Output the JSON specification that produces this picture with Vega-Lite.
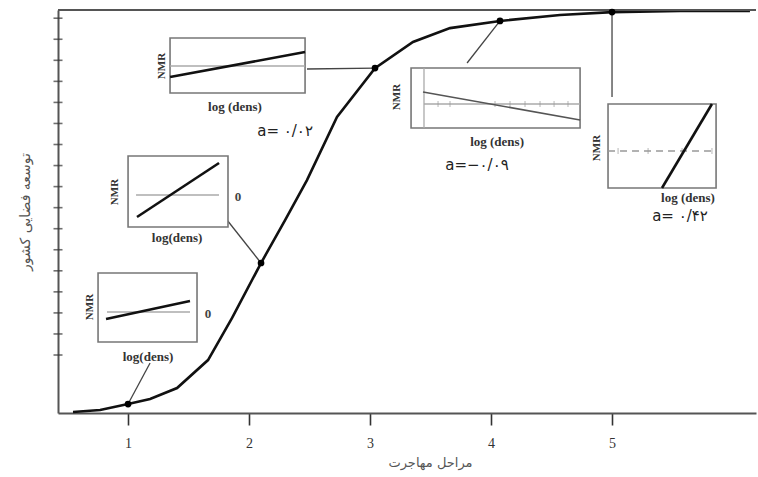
{
  "$schema": "https://vega.github.io/schema/vega-lite/v6.json",
  "width": 698,
  "height": 403,
  "padding": {"left": 58, "top": 10, "right": 2, "bottom": 64},
  "autosize": {"type": "none"},
  "background": "white",
  "config": {"view": {"stroke": null}},
  "datasets": {
    "curve": [
      {"x": 0.545, "y": -2.71}, {"x": 0.769, "y": -2.61}, {"x": 1.0, "y": -2.33},
      {"x": 1.182, "y": -2.09}, {"x": 1.405, "y": -1.57}, {"x": 1.661, "y": -0.24},
      {"x": 1.86, "y": 1.76}, {"x": 2.099, "y": 4.37}, {"x": 2.298, "y": 6.41},
      {"x": 2.479, "y": 8.31}, {"x": 2.727, "y": 11.31}, {"x": 3.041, "y": 13.63},
      {"x": 3.355, "y": 14.87}, {"x": 3.661, "y": 15.53}, {"x": 4.074, "y": 15.87},
      {"x": 4.57, "y": 16.15}, {"x": 5.0, "y": 16.29}, {"x": 5.562, "y": 16.34},
      {"x": 6.14, "y": 16.34}
    ],
    "dots": [
      {"x": 1.0, "y": -2.33}, {"x": 2.099, "y": 4.37}, {"x": 3.041, "y": 13.63},
      {"x": 4.074, "y": 15.87}, {"x": 5.0, "y": 16.29}
    ],
    "boxes": [
      {"x1": 0.752, "x2": 1.57, "y1": 0.618, "y2": 3.896},
      {"x1": 1.0, "x2": 1.826, "y1": 6.081, "y2": 9.454},
      {"x1": 1.347, "x2": 2.463, "y1": 12.447, "y2": 15.059},
      {"x1": 3.339, "x2": 4.736, "y1": 10.784, "y2": 13.634},
      {"x1": 4.967, "x2": 5.86, "y1": 7.933, "y2": 11.924}
    ],
    "zeros": [
      {"x1": 0.826, "x2": 1.512, "y1": 2.043, "y2": 2.043},
      {"x1": 1.066, "x2": 1.752, "y1": 7.601, "y2": 7.601},
      {"x1": 1.347, "x2": 2.463, "y1": 13.729, "y2": 13.729},
      {"x1": 3.446, "x2": 4.736, "y1": 11.924, "y2": 11.924},
      {"x1": 3.446, "x2": 3.446, "y1": 10.784, "y2": 13.634}
    ],
    "dashzero": [
      {"x1": 4.967, "x2": 5.86, "y1": 9.691, "y2": 9.691}
    ],
    "innerticks": [
      {"x": 3.562, "y": 11.924}, {"x": 3.661, "y": 11.924}, {"x": 4.033, "y": 11.924},
      {"x": 4.157, "y": 11.924}, {"x": 4.281, "y": 11.924}, {"x": 4.405, "y": 11.924},
      {"x": 4.521, "y": 11.924}, {"x": 4.636, "y": 11.924},
      {"x": 5.05, "y": 9.691}, {"x": 5.298, "y": 9.691}, {"x": 5.579, "y": 9.691}, {"x": 5.826, "y": 9.691}
    ],
    "slopes": [
      {"x1": 0.818, "y1": 1.71, "x2": 1.512, "y2": 2.565},
      {"x1": 1.074, "y1": 6.556, "x2": 1.752, "y2": 9.121},
      {"x1": 1.347, "y1": 13.207, "x2": 2.463, "y2": 14.394},
      {"x1": 5.413, "y1": 7.933, "x2": 5.826, "y2": 11.924}
    ],
    "slopeNeg": [
      {"x1": 3.438, "y1": 12.494, "x2": 4.736, "y2": 11.164}
    ],
    "connectors": [
      {"x1": 1.182, "y1": -0.38, "x2": 1.0, "y2": -2.33},
      {"x1": 1.818, "y1": 6.413, "x2": 2.099, "y2": 4.37},
      {"x1": 2.479, "y1": 13.587, "x2": 3.041, "y2": 13.63},
      {"x1": 3.802, "y1": 13.872, "x2": 4.074, "y2": 15.87},
      {"x1": 5.0, "y1": 12.257, "x2": 5.0, "y2": 16.29}
    ],
    "nmr": [
      {"x": 0.686, "y": 2.28}, {"x": 0.893, "y": 7.743}, {"x": 1.281, "y": 13.729},
      {"x": 3.223, "y": 12.257}, {"x": 4.876, "y": 9.834}
    ],
    "logs": [
      {"x": 1.165, "y": -0.095, "t": "log(dens)"},
      {"x": 1.405, "y": 5.558, "t": "log(dens)"},
      {"x": 1.884, "y": 11.781, "t": "log (dens)"},
      {"x": 4.05, "y": 10.119, "t": "log (dens)"},
      {"x": 5.628, "y": 7.458, "t": "log (dens)"}
    ],
    "zlabels": [
      {"x": 1.661, "y": 1.948, "t": "0"},
      {"x": 1.909, "y": 7.506, "t": "0"}
    ],
    "avals": [
      {"x": 2.298, "y": 10.641, "t": "a= ۰/۰۲"},
      {"x": 3.884, "y": 9.026, "t": "a=−۰/۰۹"},
      {"x": 5.562, "y": 6.603, "t": "a= ۰/۴۲"}
    ],
    "yticks": [
      {"yt": 0}, {"yt": 1}, {"yt": 2}, {"yt": 3}, {"yt": 4}, {"yt": 5}, {"yt": 6},
      {"yt": 7}, {"yt": 8}, {"yt": 9}, {"yt": 10}, {"yt": 11}, {"yt": 12},
      {"yt": 13}, {"yt": 14}, {"yt": 15}, {"yt": 16}
    ]
  },
  "layer": [
    {
      "data": {"name": "curve"},
      "mark": {"type": "line", "color": "#111", "strokeWidth": 2.6},
      "encoding": {
        "x": {"field": "x", "type": "quantitative",
              "scale": {"domain": [0.421, 6.19], "nice": false, "zero": false},
              "axis": {"values": [1, 2, 3, 4, 5], "format": "d", "grid": false, "domainColor": "#555", "domainWidth": 2,
                       "tickColor": "#333", "tickSize": 12, "tickWidth": 1.6,
                       "labelFont": "Liberation Serif", "labelFontSize": 14, "labelColor": "#333", "labelPadding": 11,
                       "title": "مراحل مهاجرت", "titleFont": "DejaVu Sans", "titleFontSize": 13,
                       "titleFontWeight": "normal", "titleColor": "#555", "titlePadding": 6, "titleX": 372}},
        "y": {"field": "y", "type": "quantitative",
              "scale": {"domain": [-2.755, 16.39], "nice": false, "zero": false},
              "axis": {"grid": false, "ticks": false, "labels": false, "domainColor": "#555", "domainWidth": 2,
                       "title": "توسعه فضایی کشور", "titleFont": "DejaVu Sans", "titleFontSize": 14,
                       "titleFontWeight": "normal", "titleColor": "#555", "titlePadding": 26}}
      }
    },
    {
      "data": {"name": "yticks"},
      "mark": {"type": "tick", "orient": "horizontal", "size": 9, "thickness": 1.6, "color": "#333"},
      "encoding": {
        "x": {"datum": 0.421, "type": "quantitative"},
        "y": {"field": "yt", "type": "quantitative"}
      }
    },
    {
      "data": {"values": [{"top": 16.39}]},
      "mark": {"type": "rule", "color": "#555", "strokeWidth": 2},
      "encoding": {"y": {"field": "top", "type": "quantitative"}}
    },
    {
      "data": {"name": "connectors"},
      "mark": {"type": "rule", "color": "#444", "strokeWidth": 1.3},
      "encoding": {
        "x": {"field": "x1", "type": "quantitative"}, "x2": {"field": "x2"},
        "y": {"field": "y1", "type": "quantitative"}, "y2": {"field": "y2"}
      }
    },
    {
      "data": {"name": "boxes"},
      "mark": {"type": "rect", "fill": "white", "stroke": "#777", "strokeWidth": 1.6},
      "encoding": {
        "x": {"field": "x1", "type": "quantitative"}, "x2": {"field": "x2"},
        "y": {"field": "y1", "type": "quantitative"}, "y2": {"field": "y2"}
      }
    },
    {
      "data": {"name": "zeros"},
      "mark": {"type": "rule", "color": "#aaa", "strokeWidth": 1.3},
      "encoding": {
        "x": {"field": "x1", "type": "quantitative"}, "x2": {"field": "x2"},
        "y": {"field": "y1", "type": "quantitative"}, "y2": {"field": "y2"}
      }
    },
    {
      "data": {"name": "dashzero"},
      "mark": {"type": "rule", "color": "#999", "strokeWidth": 1.3, "strokeDash": [7, 5]},
      "encoding": {
        "x": {"field": "x1", "type": "quantitative"}, "x2": {"field": "x2"},
        "y": {"field": "y1", "type": "quantitative"}, "y2": {"field": "y2"}
      }
    },
    {
      "data": {"name": "innerticks"},
      "mark": {"type": "tick", "orient": "vertical", "size": 6, "thickness": 1, "color": "#999"},
      "encoding": {
        "x": {"field": "x", "type": "quantitative"},
        "y": {"field": "y", "type": "quantitative"}
      }
    },
    {
      "data": {"name": "slopes"},
      "mark": {"type": "rule", "color": "#111", "strokeWidth": 2.6},
      "encoding": {
        "x": {"field": "x1", "type": "quantitative"}, "x2": {"field": "x2"},
        "y": {"field": "y1", "type": "quantitative"}, "y2": {"field": "y2"}
      }
    },
    {
      "data": {"name": "slopeNeg"},
      "mark": {"type": "rule", "color": "#555", "strokeWidth": 1.6},
      "encoding": {
        "x": {"field": "x1", "type": "quantitative"}, "x2": {"field": "x2"},
        "y": {"field": "y1", "type": "quantitative"}, "y2": {"field": "y2"}
      }
    },
    {
      "data": {"name": "dots"},
      "mark": {"type": "point", "filled": true, "color": "#000", "size": 45, "opacity": 1},
      "encoding": {
        "x": {"field": "x", "type": "quantitative"},
        "y": {"field": "y", "type": "quantitative"}
      }
    },
    {
      "data": {"name": "nmr"},
      "mark": {"type": "text", "text": "NMR", "angle": 270, "font": "Liberation Serif", "fontSize": 11, "fontWeight": "bold", "color": "#333"},
      "encoding": {
        "x": {"field": "x", "type": "quantitative"},
        "y": {"field": "y", "type": "quantitative"}
      }
    },
    {
      "data": {"name": "logs"},
      "mark": {"type": "text", "font": "Liberation Serif", "fontSize": 13, "fontWeight": "bold", "color": "#333"},
      "encoding": {
        "x": {"field": "x", "type": "quantitative"},
        "y": {"field": "y", "type": "quantitative"},
        "text": {"field": "t"}
      }
    },
    {
      "data": {"name": "zlabels"},
      "mark": {"type": "text", "font": "Liberation Serif", "fontSize": 13, "fontWeight": "bold", "color": "#444"},
      "encoding": {
        "x": {"field": "x", "type": "quantitative"},
        "y": {"field": "y", "type": "quantitative"},
        "text": {"field": "t"}
      }
    },
    {
      "data": {"name": "avals"},
      "mark": {"type": "text", "font": "DejaVu Sans", "fontSize": 15, "color": "#222"},
      "encoding": {
        "x": {"field": "x", "type": "quantitative"},
        "y": {"field": "y", "type": "quantitative"},
        "text": {"field": "t"}
      }
    }
  ]
}
